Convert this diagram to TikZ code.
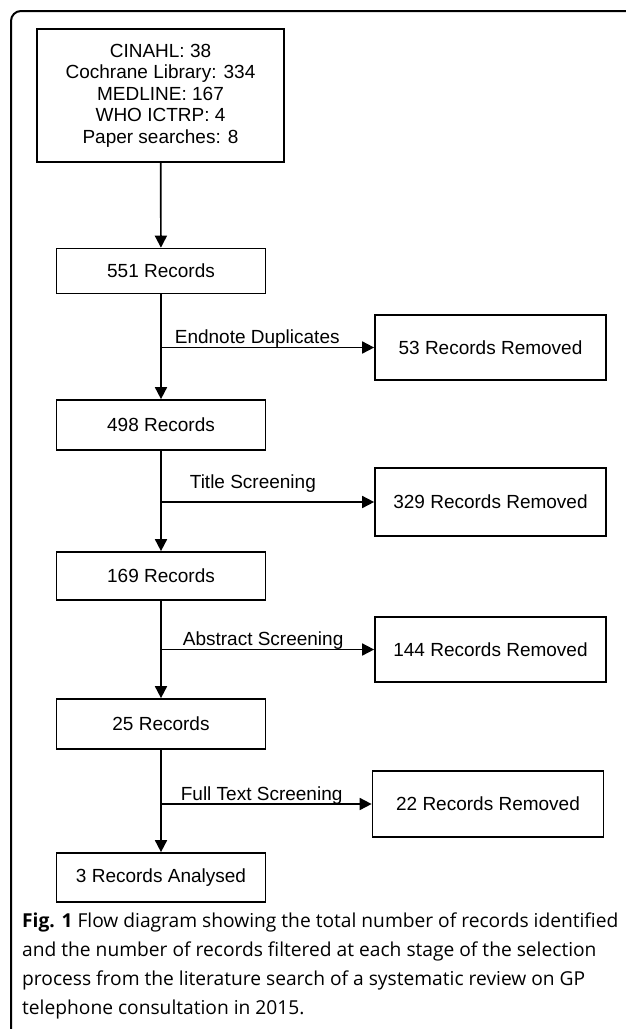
\documentclass[tikz,border=0pt]{standalone}
\usepackage{fontspec}
\setmainfont{Liberation Sans}
\newfontfamily\capfont{Open Sans}
\usetikzlibrary{arrows.meta}

\begin{document}
\begin{tikzpicture}[x=1pt,y=-1pt]
    % Styles
    \tikzset{
        record/.style={draw,line width=1.7pt,minimum width=209pt,inner sep=0pt,font=\fontsize{19}{21.5}\selectfont},
        removed/.style={record,minimum width=231pt,minimum height=66pt},
        flow/.style={line width=1.7pt,-{Triangle[length=12pt,width=12pt]}},
        filter text/.style={anchor=base west,inner sep=0pt,font=\fontsize{19}{21.5}\selectfont}
    }
    \useasboundingbox (0,0) rectangle (625,1029);
    %frame
    \draw[line width=2pt,rounded corners=10pt] (632,11) -- (11,11) -- (11,1032);
    %records
    \node[record,minimum width=247pt,minimum height=133pt,align=center] (search) at (160.5,95.5)
        {CINAHL: 38\\Cochrane Library: 334\\MEDLINE: 167\\WHO ICTRP: 4\\Paper searches: 8};
    \node[record,minimum height=45pt] (r551) at (161,271) {551 Records};
    \node[record,minimum height=50pt] (r498) at (161,425) {498 Records};
    \node[record,minimum height=48pt] (r169) at (161,576) {169 Records};
    \node[record,minimum height=50pt] (r25) at (161,724) {25 Records};
    \node[record,minimum height=49pt] (r3) at (161,877.5) {3 Records Analysed};
    %removed
    \node[removed,minimum height=65pt] (rm53) at (490.5,347.5) {53 Records Removed};
    \node[removed,minimum height=68pt] (rm329) at (490.5,502) {329 Records Removed};
    \node[removed,minimum height=65pt] (rm144) at (490.5,649.5) {144 Records Removed};
    \node[removed] (rm22) at (488,804) {22 Records Removed};
    %arrows
    \draw[flow] (search) -- (r551);
    \draw[flow] (r551) -- (r498);
    \draw[flow] (r498) -- (r169);
    \draw[flow] (r169) -- (r25);
    \draw[flow] (r25) -- (r3);
    \draw[flow] (r551.south |- rm53.west) -- node[filter text,pos=0,xshift=13pt,yshift=4pt] (t53) {Endnote Duplicates} (rm53.west);
    \draw[flow] (r498.south |- rm329.west) -- node[filter text,pos=0,xshift=28pt,yshift=14pt] (t329) {Title Screening} (rm329.west);
    \draw[flow] (r169.south |- rm144.west) -- node[filter text,pos=0,xshift=21pt,yshift=4pt] (t144) {Abstract Screening} (rm144.west);
    \draw[flow] (r25.south |- rm22.west) -- node[filter text,pos=0,xshift=19pt,yshift=4pt] (t22) {Full Text Screening} (rm22.west);
    %caption
    \node[anchor=north west,align=left,inner sep=0pt,font=\capfont\fontsize{19.2}{28.8}\selectfont] (caption) at (22,913)
        {\textbf{Fig. 1} Flow diagram showing the total number of records identified\\
         and the number of records filtered at each stage of the selection\\
         process from the literature search of a systematic review on GP\\
         telephone consultation in 2015.};
\end{tikzpicture}
\end{document}
